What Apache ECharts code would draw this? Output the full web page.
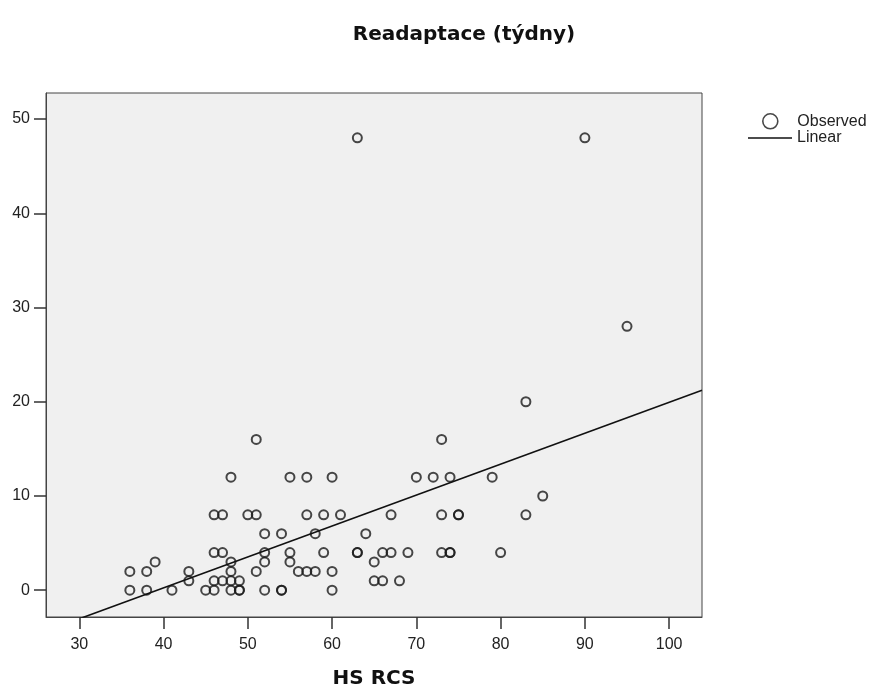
<!DOCTYPE html>
<html>
<head>
<meta charset="utf-8">
<script src="https://cdn.jsdelivr.net/npm/echarts@6/dist/echarts.min.js"></script>
<style>
html,body{margin:0;padding:0;background:#fff;}
#chart{width:870px;height:689px;}
</style>
</head>
<body>
<div id="chart"></div>
<script>
// ---- data ----
const chartTitle = 'Readaptace (týdny)';
const xAxisName = 'HS RCS';
const seriesNames = ['Observed', 'Linear'];
const xTicks = [30, 40, 50, 60, 70, 80, 90, 100];
const yTicks = [0, 10, 20, 30, 40, 50];

// observed points: HS RCS (x) and Readaptace in weeks (y)
const hsRcs = [
  63, 90,
  95,
  83,
  51, 73,
  48, 55, 57, 60, 70, 72, 74, 79,
  85,
  46, 47, 50, 51, 57, 59, 61, 67, 73, 75, 75, 83,
  52, 54, 58, 64,
  46, 47, 52, 55, 59, 63, 63, 66, 67, 69, 73, 74, 74, 80,
  39, 48, 52, 55, 65,
  36, 38, 43, 48, 51, 56, 57, 58, 60,
  43, 46, 47, 48, 49, 65, 66, 68,
  36, 38, 41, 45, 46, 48, 49, 49, 52, 54, 54, 60
];
const readaptace = [
  48, 48,
  28,
  20,
  16, 16,
  12, 12, 12, 12, 12, 12, 12, 12,
  10,
  8, 8, 8, 8, 8, 8, 8, 8, 8, 8, 8, 8,
  6, 6, 6, 6,
  4, 4, 4, 4, 4, 4, 4, 4, 4, 4, 4, 4, 4, 4,
  3, 3, 3, 3, 3,
  2, 2, 2, 2, 2, 2, 2, 2, 2,
  1, 1, 1, 1, 1, 1, 1, 1,
  0, 0, 0, 0, 0, 0, 0, 0, 0, 0, 0, 0
];

// linear fit
const fitIntercept = -12.87;
const fitSlope = 0.328;

// axis ranges
const xRange = [26.05, 103.9];
const yRange = [-2.84, 52.76];

// ---- build ----
const observed = hsRcs.map((x, i) => [x, readaptace[i]]);
const fitLine = xRange.map(x => [x, fitIntercept + fitSlope * x]);

const labelFont = { fontFamily: '"Liberation Sans", Arial, sans-serif', fontSize: 16, color: '#222' };
const legendText = { fontFamily: '"Liberation Sans", Arial, sans-serif', fontSize: 16, color: '#222', lineHeight: 15 };

const chart = echarts.init(document.getElementById('chart'), null, { renderer: 'canvas' });
chart.setOption({
  backgroundColor: '#ffffff',
  animation: false,
  title: {
    text: chartTitle,
    left: 459,
    textAlign: 'center',
    top: 20,
    textStyle: { fontFamily: '"DejaVu Sans", sans-serif', fontWeight: 'bold', fontSize: 20, color: '#111' }
  },
  legend: [
    {
      orient: 'vertical',
      left: 757,
      top: 108,
      itemWidth: 44,
      itemHeight: 15,
      data: [{ name: seriesNames[0], icon: 'circle' }],
      itemStyle: { color: 'rgba(0,0,0,0)', borderColor: '#1a1a1a', borderWidth: 1.6 },
      textStyle: legendText
    },
    {
      orient: 'vertical',
      left: 743,
      top: 125,
      itemWidth: 44,
      itemHeight: 1.6,
      data: [{ name: seriesNames[1], icon: 'rect' }],
      itemStyle: { color: '#111', borderWidth: 0 },
      lineStyle: { width: 0 },
      textStyle: legendText
    }
  ],
  grid: {
    left: 46, top: 93, right: 168, bottom: 72,
    outerBoundsMode: 'none',
    containLabel: false,
    show: true,
    backgroundColor: '#f0f0f0',
    borderColor: '#444',
    borderWidth: 1
  },
  xAxis: {
    type: 'value',
    min: xRange[0], max: xRange[1],
    name: xAxisName,
    nameLocation: 'middle',
    nameGap: 52,
    nameTextStyle: { fontFamily: '"DejaVu Sans", sans-serif', fontWeight: 'bold', fontSize: 20, color: '#111' },
    splitLine: { show: false },
    axisLine: { show: true, onZero: false, lineStyle: { color: '#444', width: 1 } },
    axisTick: { show: true, inside: false, length: 12, customValues: xTicks, lineStyle: { color: '#333', width: 1.5 } },
    axisLabel: Object.assign({ margin: 20, customValues: xTicks, formatter: v => String(v) }, labelFont)
  },
  yAxis: {
    type: 'value',
    min: yRange[0], max: yRange[1],
    splitLine: { show: false },
    axisLine: { show: true, onZero: false, lineStyle: { color: '#444', width: 1 } },
    axisTick: { show: true, inside: false, length: 12, customValues: yTicks, lineStyle: { color: '#333', width: 1.5 } },
    axisLabel: Object.assign({ margin: 16, customValues: yTicks, formatter: v => String(v) }, labelFont)
  },
  series: [
    {
      name: seriesNames[0],
      type: 'scatter',
      data: observed,
      symbol: 'circle',
      symbolSize: 9,
      itemStyle: { color: 'rgba(0,0,0,0)', borderColor: '#1a1a1a', borderWidth: 2 },
      z: 2
    },
    {
      name: seriesNames[1],
      type: 'line',
      data: fitLine,
      symbol: 'none',
      clip: true,
      lineStyle: { color: '#111', width: 1.6 },
      itemStyle: { color: '#111' },
      z: 3
    }
  ]
});
</script>
</body>
</html>
